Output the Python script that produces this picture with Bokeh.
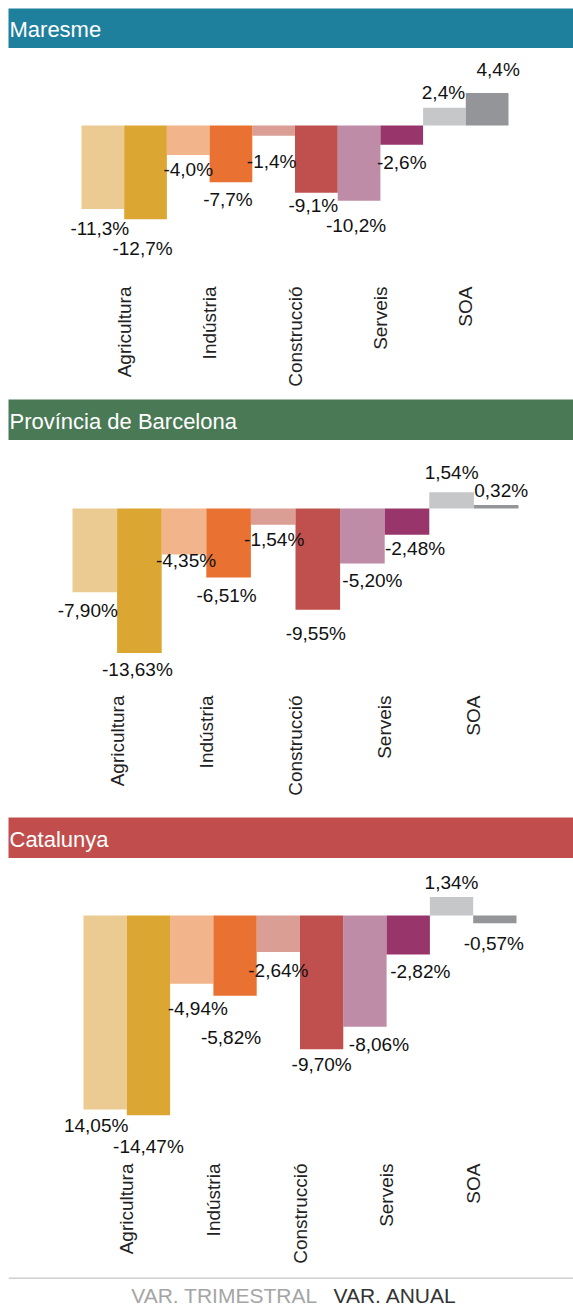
import math
from bokeh.plotting import figure
from bokeh.models import ColumnDataSource, Range1d, FixedTicker, Span
from bokeh.layouts import column
from bokeh.transform import dodge
from bokeh.core.properties import value
from bokeh.embed import file_html
from bokeh.resources import INLINE

# ---------------- data ----------------
categories = ["Agricultura", "Indústria", "Construcció", "Serveis", "SOA"]

maresme_trim = [-11.3, -4.0, -1.4, -10.2, 2.4]
maresme_anual = [-12.7, -7.7, -9.1, -2.6, 4.4]
maresme_trim_lbl = ["-11,3%", "-4,0%", "-1,4%", "-10,2%", "2,4%"]
maresme_anual_lbl = ["-12,7%", "-7,7%", "-9,1%", "-2,6%", "4,4%"]

bcn_trim = [-7.90, -4.35, -1.54, -5.20, 1.54]
bcn_anual = [-13.63, -6.51, -9.55, -2.48, 0.32]
bcn_trim_lbl = ["-7,90%", "-4,35%", "-1,54%", "-5,20%", "1,54%"]
bcn_anual_lbl = ["-13,63%", "-6,51%", "-9,55%", "-2,48%", "0,32%"]

cat_trim = [-14.05, -4.94, -2.64, -8.06, 1.34]
cat_anual = [-14.47, -5.82, -9.70, -2.82, -0.57]
cat_trim_lbl = ["14,05%", "-4,94%", "-2,64%", "-8,06%", "1,34%"]
cat_anual_lbl = ["-14,47%", "-5,82%", "-9,70%", "-2,82%", "-0,57%"]

legend_labels = ["VAR. TRIMESTRAL", "VAR. ANUAL"]

# ---------------- styles / label layout (pixels) ----------------
light_colors = ["#EBCB91", "#F2B48A", "#DA9E94", "#BF8CA7", "#C6C7C9"]
dark_colors = ["#DBA732", "#E97232", "#C0504D", "#98366B", "#939598"]
header_colors = ["#1F809E", "#4A7A55", "#C14E4C"]
FONT = "Liberation Sans"
W = 565
HALF_DIGIT = 6.8  # half of the digit height of the 19px label font

# label gap from bar end (px) and horizontal nudge (px), as in the original layout
p1_trim_gap, p1_trim_dx = [13, 8, 19, 18, 8], [-3, 0, -2, -3, -1]
p1_anual_gap, p1_anual_dx = [22, 10, 6, 11, 17], [-3, -3, -3, 0, 11]
p2_trim_gap, p2_trim_dx = [11, -1, 8, 10, 13], [-7, 2, 1, 10, 0]
p2_anual_gap, p2_anual_dx = [10, 11, 17, 7, 8], [-2, -2, -2, 8, 5]
p3_trim_gap, p3_trim_dx = [9, 18, 12, 11, 8], [-9, 6, 0, 14, 0]
p3_anual_gap, p3_anual_dx = [25, 35, 8, 10, 13], [0, -4, 0, 12, -1]


def header(title, color, h):
    f = figure(width=W, height=h,
               x_range=Range1d(0, 1), y_range=Range1d(0, 1),
               output_backend="svg", toolbar_location=None,
               x_axis_location=None, y_axis_location=None,
               min_border=0, background_fill_color=color,
               border_fill_color=color, outline_line_color=None)
    f.xgrid.visible = False
    f.ygrid.visible = False
    f.text(x=[0], y=[0.5], text=[title], x_offset=1, y_offset=1,
           text_font=value(FONT), text_font_size="22px",
           text_color="white", text_baseline="middle", text_align="left")
    return f


def panel(trim, anual, trim_lbl, anual_lbl, gaps, dxs, left_px, right_px,
          fig_top, baseline, px_pct, label_top, fig_h):
    unit = (right_px - left_px) / len(categories)
    xs = -0.5 - (left_px - 8) / unit
    xe = xs + W / unit
    frame_h = label_top - 3 - fig_top
    ye = (baseline - fig_top) / px_pct
    ys = ye - frame_h / px_pct
    p = figure(width=W, height=fig_h, x_range=Range1d(xs, xe),
               y_range=Range1d(ys, ye), output_backend="svg",
               toolbar_location=None, y_axis_location=None,
               min_border_left=0, min_border_right=0, min_border_top=0,
               min_border_bottom=fig_h - frame_h, outline_line_color=None,
               background_fill_color="white", border_fill_color="white")
    p.xgrid.visible = False
    p.ygrid.visible = False
    src = ColumnDataSource(dict(
        x=list(range(len(categories))), trim=trim, anual=anual,
        lc=light_colors, dc=dark_colors))
    p.vbar(x=dodge("x", -0.25, range=p.x_range), top="trim", bottom=0,
           width=0.5, fill_color="lc", line_color=None, source=src)
    p.vbar(x=dodge("x", 0.25, range=p.x_range), top="anual", bottom=0,
           width=0.5, fill_color="dc", line_color=None, source=src)
    for vals, lbls, off, gap, dx in ((trim, trim_lbl, -0.25, gaps[0], dxs[0]),
                                     (anual, anual_lbl, 0.25, gaps[1], dxs[1])):
        dy = [(g + HALF_DIGIT) if v < 0 else -(g + HALF_DIGIT)
              for v, g in zip(vals, gap)]
        s = ColumnDataSource(dict(x=[i + off for i in range(len(vals))],
                                  y=vals, t=lbls, dx=dx, dy=dy))
        p.text(x="x", y="y", text="t", source=s, text_align="center",
               text_baseline="middle", x_offset="dx", y_offset="dy",
               text_font=value(FONT), text_font_size="19px",
               text_color="#111111")
    ax = p.xaxis[0]
    ax.ticker = FixedTicker(ticks=list(range(len(categories))))
    ax.major_label_overrides = {i: c for i, c in enumerate(categories)}
    ax.major_label_orientation = math.pi / 2
    ax.axis_line_color = None
    ax.major_tick_line_color = None
    ax.minor_tick_line_color = None
    ax.major_tick_out = 0
    ax.major_tick_in = 0
    ax.major_label_standoff = 3
    ax.major_label_text_font = FONT
    ax.major_label_text_font_size = "19px"
    ax.major_label_text_color = "#222222"
    return p


h1 = header("Maresme", header_colors[0], 40)
p1 = panel(maresme_trim, maresme_anual, maresme_trim_lbl, maresme_anual_lbl,
           (p1_trim_gap, p1_anual_gap), (p1_trim_dx, p1_anual_dx),
           81, 508, 48, 125, 7.38, 286, 351)
h2 = header("Província de Barcelona", header_colors[1], 41)
p2 = panel(bcn_trim, bcn_anual, bcn_trim_lbl, bcn_anual_lbl,
           (p2_trim_gap, p2_anual_gap), (p2_trim_dx, p2_anual_dx),
           72, 518, 440, 508, 10.6, 695, 377)
h3 = header("Catalunya", header_colors[2], 41)
p3 = panel(cat_trim, cat_anual, cat_trim_lbl, cat_anual_lbl,
           (p3_trim_gap, p3_anual_gap), (p3_trim_dx, p3_anual_dx),
           83, 516, 858, 915, 13.8, 1163, 419)

FH = 31
foot = figure(width=W, height=FH, x_range=Range1d(0, W), y_range=Range1d(0, FH),
              output_backend="svg", toolbar_location=None,
              x_axis_location=None, y_axis_location=None, min_border=0,
              outline_line_color=None)
foot.xgrid.visible = False
foot.ygrid.visible = False
foot.add_layout(Span(location=FH - 0.5, dimension="width", line_color="#A0A0A0",
                     line_width=1))
foot.text(x=[317], y=[13.5], text=[legend_labels[0]], x_offset=-8,
          text_align="right", text_baseline="middle",
          text_font=value(FONT), text_font_size="21px", text_color="#A5A5A5")
foot.text(x=[317], y=[13.5], text=[legend_labels[1]], x_offset=8,
          text_align="left", text_baseline="middle",
          text_font=value(FONT), text_font_size="21px", text_color="#333333")

layout = column(h1, p1, h2, p2, h3, p3, foot, spacing=0, margin=(8, 0, 0, 8))
open("out.html", "w").write(file_html(layout, INLINE))
